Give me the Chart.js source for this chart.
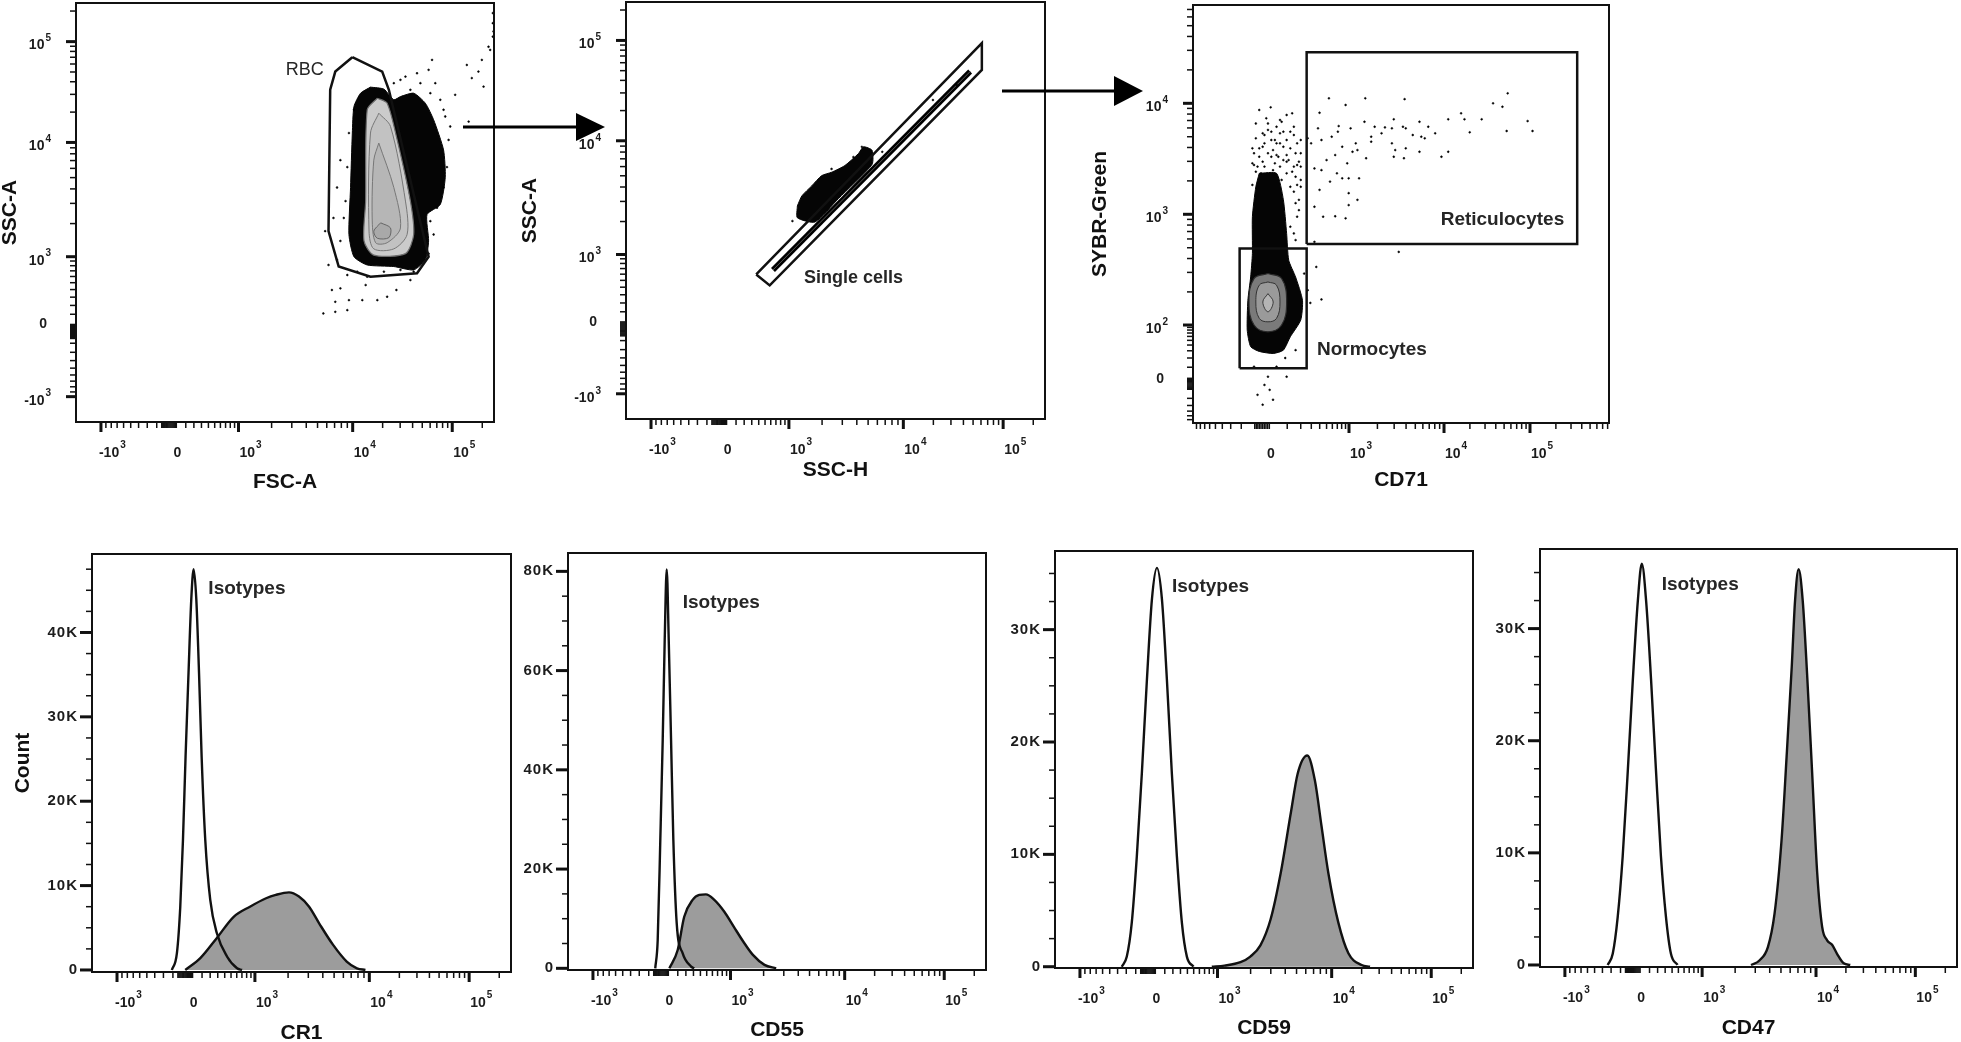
<!DOCTYPE html>
<html lang="en">
<head>
<meta charset="UTF-8">
<title>RBC gating and complement regulator staining</title>
<script src="https://cdn.jsdelivr.net/npm/chart.js"></script>
<style>
  html, body { margin: 0; padding: 0; background: #fff; overflow: hidden; }
  #page { position: relative; width: 1961px; height: 1042px; background: #fff; }
  #page canvas { position: absolute; }
  #arrows { position: absolute; left: 0; top: 0; pointer-events: none; }
</style>
</head>
<body>
<div id="page">
  <canvas id="fscSsc"></canvas>
  <canvas id="singlets"></canvas>
  <canvas id="cd71"></canvas>
  <canvas id="cr1"></canvas>
  <canvas id="cd55"></canvas>
  <canvas id="cd59"></canvas>
  <canvas id="cd47"></canvas>
  <!-- gating arrows -->
  <svg id="arrows" width="1961" height="1042">
    <line x1="463" y1="127" x2="579" y2="127" stroke="#000" stroke-width="3"/>
    <polygon points="576,113 605,127 576,141" fill="#000"/>
    <line x1="1002" y1="91" x2="1117" y2="91" stroke="#000" stroke-width="3"/>
    <polygon points="1114,76 1143,91 1114,106" fill="#000"/>
  </svg>
</div>

<script>
// ---------- data ----------

// FSC-A / SSC-A  [FSC, SSC]
const rbcGate = [[9930,70100],[19800,50500],[23100,33300],[57900,1000],[44300,656],[15100,596],[7590,783],[6210,1715],[6420,33300],[7100,50500],[9930,70100]];
const rbcDense = [[15100,35400],[20600,33800],[25900,26500],[30200,28500],[41000,30800],[53700,24500],[65000,16800],[81800,8630],[85100,5040],[75900,2940],[55800,2400],[57900,1400],[53700,926],[41000,717],[25900,783],[14000,815],[10300,1000],[9290,1600],[9590,4110],[9930,12400],[10300,22700],[12000,30800],[15100,35400]];
const rbcContour1 = [[17700,27500],[22200,24500],[28000,10600],[38000,3140],[41000,1600],[33900,1070],[16300,1035],[13000,1400],[13500,3140],[14000,21100],[17700,27500]];
const rbcContour2 = [[18300,19500],[24000,14400],[33900,3140],[35200,1600],[25900,1185],[16300,1185],[14600,1715],[15100,12400],[18300,19500]];
const rbcContour3 = [[18300,9880],[25900,4110],[30200,1830],[22200,1350],[17000,1350],[15700,2240],[16300,7050],[18300,9880]];
const rbcContour4 = [[19100,2030],[24000,1830],[23100,1500],[17700,1480],[16300,1715],[19100,2030]];
const rbcDots = [[5810,1715],[6210,815],[6640,394],[7100,243],[7850,417],[9000,146],[9290,263],[7100,127],[5610,109],[13500,465],[17700,263],[22200,305],[27500,394],[12500,263],[9000,625],[38000,541],[7350,926],[7850,1400],
  [62700,65900],[57900,52500],[67600,38700],[81800,21100],[95500,14400],[146000,16100],[107000,29700],[140000,58700],[157000,43500],[183000,50500],[198000,65900],[206000,35800],[231000,89000],[240000,82800],[255000,112000],[255000,191000],[255000,152000],[259000,126000],[33900,45000],[44300,48600],
  [75900,26500],[85100,18100],[91900,10600],[88500,6150],[81800,4110],[70300,2750],[60300,2100],[65000,1600],[57900,1070],[38000,33300],[47900,38700],[60300,30800],[30200,41800],[25900,38700],
  [10300,21100],[9290,12400],[9000,6150],[8690,3140],[8390,2240],[6850,2240],[7350,4110],[7850,7050],[11100,685],[20600,685],[30200,717],[41000,685],[14000,596]];

// SSC-H / SSC-A  [SSC-H, SSC-A]
const singletGate = [[363,596],[581,426],[61200,50900],[61200,94200],[363,596]];
const singletBand = [[642,674],[46700,49000]];
const singletCluster = [[1200,2740],[1320,3350],[1620,4090],[1980,5010],[2420,5360],[3160,6130],[4130,7760],[4570,8870],[5400,8300],[5400,6250],[2770,3170],[1730,1980],[1200,2160],[1200,2740]];
const singletDots = [[4420,8870],[3740,7250],[1080,2020],[6610,8040],[2420,5730],[19800,25500],[34200,36100]];

// CD71 / SYBR-Green  [CD71, SYBR]
const reticGate = [[253,540],[354000,540],[354000,28800],[253,28800],[253,540]];
const normoGate = [[-214,9],[253,9],[253,493],[-214,493],[-214,9]];
const normoDense = [[-71,2340],[33,2340],[75,1350],[96,673],[110,386],[159,273],[215,168],[200,111],[121,59],[75,31],[13,26],[-71,29],[-128,37],[-153,80],[-148,168],[-128,273],[-116,445],[-116,951],[-93,1770],[-71,2340]];
const normoContour1 = [[-18,293],[64,264],[96,162],[64,100],[-18,74],[-105,100],[-140,162],[-105,264],[-18,293]];
const normoContour2 = [[-18,246],[33,230],[54,162],[33,115],[-18,107],[-71,115],[-93,162],[-71,230],[-18,246]];
const normoContour3 = [[-18,193],[13,162],[-18,132],[-49,162],[-18,193]];
const reticDots = [[539,11100],[1490,11100],[3860,10900],[55000,12300],[37200,10000],[47800,9310],[902,9660],[398,8220],[1460,6820],[15800,8130],[27400,7180],[11200,7180],[17300,7180],[93800,6920],[107000,5630],[53500,5630],[2970,7180],[3710,6150],[5530,6820],[6840,6150],[8080,5370],[19900,5480],[730,6240],[712,5550],[1040,5950],[378,5950],[1870,6150],[2400,6070],[2840,5950],[3970,5950],[2210,5370],[1720,5000],[1720,4510],[2840,4360],[4700,5180],[5780,5000],[6280,4840],[5530,3660],[3970,3930],[3080,3790],[2970,3300],[3800,3200],[9400,3300],[11200,3660],[263,4840],[298,4360],[424,4670],[588,5000],[814,4060],[1180,4360],[1230,3790],[1090,3660],[656,3420],[500,3080],[335,2590],[424,2500],[692,2340],[948,2880],[990,2110],[1280,2110],[814,2110],[1520,3200],[558,1970],[398,1660],[335,1170],[448,951],[656,960],[902,920],[990,1550],[1230,1350],[990,1210],[3350,459],[357,336],[424,171],[290,159],[335,565]];
const tailDots = [[-2,9200],[-93,4840],[-71,3300],[-18,5760],[12,3790],[54,5370],[96,7850],[134,8130],[146,6150],[75,4060],[109,3080],[159,3550],[200,4670],[200,2690],[-116,2880],[-50,4060],[2,3300],[54,2690],[96,2340],[159,2180],[185,1350],[171,951],[146,673],[159,586],[230,293],[263,207],[159,31],[87,20],[-18,1.4],[12,-21.8],[-82,-15.8],[-50,-28.8],[-8,-10.6],[-39,-5.9],[33,10.5],[96,1.4],[-105,10.5],[-39,2690],[-18,3550],[23,4670],[44,3300],[-60,2340],[64,2040],[121,1770],[33,6150],[75,3080],[-50,5370],[-82,2690],[200,1770],[96,4670],[2,4670],[146,2690],[-105,3550],[200,3550],[23,2880],[64,6820],[-28,7330],
  [-71,8710],[54,7080],[-93,6580],[121,5550],[-39,5180],[33,4360],[171,4360],[-116,3930],[96,3420],[-50,2980],[171,2780],[12,2500],[-93,2420],[121,3930],[146,5180],[-18,6580],[75,5550],[33,3420],[-71,3930],[185,2980],[54,4360],[-39,4360],[2,5550],[96,2980],[134,2420],[-105,2780],[200,2040],[171,1840],[146,1600],[185,1090],[159,1260],[121,773],[-116,1840]];

// histograms: fluorescence and count
const cr1IsoX = [-211,-160,-127,-101,-76,-48,-22,0,32,64,95,139,201,288,435,606,703];
const cr1IsoCount = [0,2000,7500,15400,25300,35200,43900,47500,43900,35200,25300,15400,8300,4350,1600,200,0];
const cr1X = [-79,79,288,545,876,1271,1556,2036,2491,3049,3731,4885,6410,7840,9260];
const cr1Count = [0,1400,3800,6300,7500,8500,8900,9200,8700,7500,5500,3000,1000,200,0];

const cd55IsoX = [-135,-111,-86,-63,-44,-25,-6,20,47,87,160,265,311];
const cd55IsoCount = [0,5700,25900,46000,66200,80400,66200,46000,25900,9100,3000,400,0];
const cd55X = [0,99,179,288,383,486,636,847,1073,1314,1607,2036,2577];
const cd55Count = [0,3700,10400,13800,14800,14900,13800,11400,8400,5400,2700,700,0];

const cd59IsoX = [-351,-294,-241,-189,-139,-90,-42,7,66,126,187,252,320,392,497];
const cd59IsoCount = [0,900,3900,9800,17200,25500,32700,35500,32700,25500,17200,9800,3900,900,0];
const cd59X = [858,1163,1626,1989,2437,2985,3648,4467,5117,6180,7180,8190,9380,11690,14720,19990,24270];
const cd59Count = [0,100,400,900,1900,4200,8300,13700,17200,18800,16600,12500,8300,3900,1200,150,0];

const cd47IsoX = [-338,-282,-229,-178,-127,-79,-31,8,59,119,179,243,311,383,486];
const cd47IsoCount = [0,1000,4300,9700,17400,25400,32500,35800,32500,25400,17400,9700,4300,1000,0];
const cd47X = [2755,3258,3858,4406,5056,5594,6190,6610,7095,7690,8380,9270,10280,11530,12940,14520,16290,19010,22130];
const cd47Count = [0,400,1600,4600,11100,18600,26600,32500,35300,32500,26000,17100,8200,3400,2200,1800,1000,150,0];

// ---------- biexponential axis ----------
class BiexScale extends Chart.LinearScale {
  determineDataLimits() {
    this._anch = this.options.anchors.map(p => [p.v, p.d]);
    this._lw = this.options.linWidth;
    this._gs = this._anch.map(p => Math.asinh(p[0] / this._lw));
    this.min = this._anch[0][0];
    this.max = this._anch[this._anch.length - 1][0];
  }
  buildTicks() {
    return [{ value: this.min }, { value: this.max }];
  }
  toDecimal(v) {
    const g = Math.asinh(v / this._lw), gs = this._gs, an = this._anch;
    let i = 0;
    while (i < gs.length - 2 && g > gs[i + 1]) i++;
    return an[i][1] + (g - gs[i]) / (gs[i + 1] - gs[i]) * (an[i + 1][1] - an[i][1]);
  }
  getPixelForValue(v) {
    if (v === null || v === undefined || Number.isNaN(v)) return NaN;
    return this.getPixelForDecimal(this.toDecimal(v));
  }
  getValueForPixel(px) {
    const d = this.getDecimalForPixel(px), an = this._anch, gs = this._gs;
    let i = 0;
    while (i < an.length - 2 && d > an[i + 1][1]) i++;
    const g = gs[i] + (d - an[i][1]) / (an[i + 1][1] - an[i][1]) * (gs[i + 1] - gs[i]);
    return Math.sinh(g) * this._lw;
  }
}
BiexScale.id = 'biex';
BiexScale.defaults = {};
Chart.register(BiexScale);

Chart.defaults.font.family = '"Liberation Sans", Arial, sans-serif';

function range(a, b, s) { const r = []; for (let v = a; v <= b + 1e-9; v += s) r.push(v); return r; }
function decades(e0, e1) { const r = []; for (let e = e0; e <= e1; e++) for (let m = 2; m <= 9; m++) r.push(m * 10 ** e); return r; }

const stdLabels = [[-1000, '-10', '3'], [0, '0', ''], [1000, '10', '3'], [10000, '10', '4'], [100000, '10', '5']];
const stdMinor = [].concat(range(-900, -100, 100), range(-150, -10, 10), range(100, 900, 100), decades(3, 4), [200000]);

const biexX = {
  kind: 'biex', linWidth: 500,
  anchors: [{v:-1665,d:0},{v:-1000,d:0.0597},{v:0,d:0.2425},{v:1000,d:0.3888},{v:1e4,d:0.6619},{v:1e5,d:0.9001},{v:262144,d:1}],
  major: [-1000, 1000, 1e4, 1e5], minor: stdMinor, labels: stdLabels
};
const biexY = {
  kind: 'biex', linWidth: 500,
  anchors: [{v:-1720,d:0},{v:-1000,d:0.0605},{v:0,d:0.2352},{v:1000,d:0.3945},{v:1e4,d:0.6672},{v:1e5,d:0.9078},{v:240000,d:1}],
  major: [-1000, 1000, 1e4, 1e5], minor: stdMinor, labels: stdLabels
};
const cd71Axis = {
  kind: 'biex', linWidth: 200,
  anchors: [{v:-1000,d:0},{v:0,d:0.1875},{v:1000,d:0.375},{v:1e4,d:0.6034},{v:1e5,d:0.8101},{v:830000,d:1}],
  major: [1000, 1e4, 1e5],
  minor: [].concat(range(-900, -100, 100), range(-90, -10, 10), range(100, 900, 100), decades(3, 4), range(200000, 800000, 100000)),
  labels: [[0, '0', ''], [1000, '10', '3'], [10000, '10', '4'], [100000, '10', '5']]
};
const sybrAxis = {
  kind: 'biex', linWidth: 20,
  anchors: [{v:-70,d:0},{v:0,d:0.1069},{v:100,d:0.2344},{v:1000,d:0.4993},{v:1e4,d:0.7648},{v:76800,d:1}],
  major: [100, 1000, 1e4],
  minor: [].concat(range(-60, -10, 10), range(-9, 0, 1), range(10, 90, 10), range(200, 900, 100), decades(3, 3), range(20000, 70000, 10000)),
  labels: [[0, '0', ''], [100, '10', '2'], [1000, '10', '3'], [10000, '10', '4']]
};
function countAxis(min, max, majorStep, minorStep, top) {
  return {
    kind: 'count', min, max,
    major: range(0, top, majorStep), minor: range(0, max, minorStep),
    labels: range(0, top, majorStep).map(v => [v, v === 0 ? '0' : (v / 1000) + 'K', ''])
  };
}

// ---------- drawing helpers ----------
const pts = list => list.map(([x, y]) => ({ x, y }));
const pairs = (xs, ys) => xs.map((x, i) => ({ x, y: ys[i] }));

function shape(list, fillColor, lineColor, lineWidth, order, tension) {
  return {
    data: pts(list), showLine: true, fill: fillColor ? 'shape' : false,
    backgroundColor: fillColor || 'transparent', borderColor: lineColor, borderWidth: lineWidth,
    pointRadius: 0, tension: tension || 0, order
  };
}
function dots(list, order) {
  return { data: pts(list), showLine: false, pointRadius: 0.9, pointBorderWidth: 0.6, backgroundColor: '#000', borderColor: '#000', order };
}
function histSets(markX, markCount, isoX, isoCount) {
  return [
    { data: pairs(isoX, isoCount), showLine: true, fill: false, borderColor: '#111', borderWidth: 2.4, pointRadius: 0, cubicInterpolationMode: 'monotone', order: 1 },
    { data: pairs(markX, markCount), showLine: true, fill: 'origin', backgroundColor: '#9c9c9c', borderColor: '#111', borderWidth: 2.4, pointRadius: 0, cubicInterpolationMode: 'monotone', order: 2 }
  ];
}

const FONT = '"Liberation Sans", Arial, sans-serif';

function drawFrame(chart, xAxis, yAxis, notes) {
  const ctx = chart.ctx, a = chart.chartArea;
  const xs = chart.scales.x, ys = chart.scales.y;
  ctx.save();
  ctx.strokeStyle = '#111';
  ctx.fillStyle = '#1c1c1c';
  const seg = (x1, y1, x2, y2, w) => { ctx.lineWidth = w; ctx.beginPath(); ctx.moveTo(x1, y1); ctx.lineTo(x2, y2); ctx.stroke(); };

  // x ticks
  const xTick = (v, len, w) => { const p = xs.getPixelForValue(v); if (p >= a.left - 0.5 && p <= a.right + 0.5) seg(p, a.bottom, p, a.bottom + len, w); };
  xAxis.minor.forEach(v => xTick(v, 6, 1.5));
  xAxis.major.forEach(v => xTick(v, 10, 3));
  // y ticks
  const yMajorLen = yAxis.kind === 'count' ? 12 : 10;
  const yTick = (v, len, w) => { const p = ys.getPixelForValue(v); if (p >= a.top - 0.5 && p <= a.bottom + 0.5) seg(a.left, p, a.left - len, p, w); };
  yAxis.minor.forEach(v => yTick(v, 6, 1.5));
  yAxis.major.forEach(v => yTick(v, yMajorLen, 3));

  // plot frame
  ctx.lineWidth = 2;
  ctx.strokeRect(a.left, a.top, a.right - a.left, a.bottom - a.top);

  // x labels
  ctx.textBaseline = 'middle';
  xAxis.labels.forEach(([v, base, exp]) => {
    const p = xs.getPixelForValue(v);
    ctx.font = 'bold 14px ' + FONT;
    if (!exp) { ctx.textAlign = 'center'; ctx.fillText(base, p, a.bottom + 31); return; }
    ctx.textAlign = 'left';
    const x0 = base.charAt(0) === '-' ? p - 2 : p + 1;
    ctx.fillText(base, x0, a.bottom + 31);
    const w = ctx.measureText(base).width;
    ctx.font = 'bold 10px ' + FONT;
    ctx.fillText(exp, x0 + w + 1, a.bottom + 23);
  });

  // y labels
  ctx.textAlign = 'right';
  yAxis.labels.forEach(([v, base, exp]) => {
    const p = ys.getPixelForValue(v);
    if (yAxis.kind === 'count') {
      ctx.font = 'bold 15px ' + FONT;
      ctx.letterSpacing = '1px';
      ctx.fillText(base, a.left - 14, p);
      ctx.letterSpacing = '0px';
      return;
    }
    const right = a.left - 25;
    if (!exp) { ctx.font = 'bold 14px ' + FONT; ctx.fillText(base, right - 4, p + 1); return; }
    ctx.font = 'bold 10px ' + FONT;
    const we = ctx.measureText(exp).width;
    ctx.fillText(exp, right, p - 3);
    ctx.font = 'bold 14px ' + FONT;
    ctx.fillText(base, right - we - 1, p + 4);
  });

  // population labels
  ctx.textAlign = 'center';
  notes.forEach(n => {
    ctx.font = n.font;
    ctx.fillStyle = '#262626';
    ctx.fillText(n.text, xs.getPixelForValue(n.x), ys.getPixelForValue(n.y));
  });
  ctx.restore();
}

function scaleConfig(axis, pos, size, title, titleOffset) {
  const base = axis.kind === 'count'
    ? { type: 'linear', min: axis.min, max: axis.max }
    : { type: 'biex', anchors: axis.anchors, linWidth: axis.linWidth };
  const pad = size - titleOffset - 10.5;
  return Object.assign(base, {
    position: pos,
    grid: { display: false }, border: { display: false }, ticks: { display: false },
    title: title ? {
      display: true, text: title, color: '#111',
      font: { family: FONT, size: 21, weight: 'bold', lineHeight: 1 },
      padding: pos === 'bottom' ? { top: 0, bottom: pad } : { top: pad, bottom: 0 }
    } : { display: false },
    afterFit: s => { if (pos === 'bottom') s.height = size; else s.width = size; }
  });
}

function makePanel(p) {
  const cv = document.getElementById(p.id);
  const W = p.pad.l + p.box.w + p.pad.r, H = p.pad.t + p.box.h + p.pad.b;
  cv.width = W; cv.height = H;
  cv.style.width = W + 'px'; cv.style.height = H + 'px';
  cv.style.left = (p.box.l - p.pad.l) + 'px';
  cv.style.top = (p.box.t - p.pad.t) + 'px';
  return new Chart(cv, {
    type: 'scatter',
    data: { datasets: p.datasets },
    options: {
      responsive: false, animation: false, devicePixelRatio: 1, events: [],
      layout: { autoPadding: false, padding: { left: 0, top: p.pad.t, right: p.pad.r, bottom: 0 } },
      plugins: { legend: { display: false }, tooltip: { enabled: false } },
      scales: {
        x: scaleConfig(p.x, 'bottom', p.pad.b, p.xTitle, p.xTitleOffset),
        y: scaleConfig(p.y, 'left', p.pad.l, p.yTitle, p.yTitleOffset)
      }
    },
    plugins: [{ id: 'flowFrame', afterDraw: c => drawFrame(c, p.x, p.y, p.notes || []) }]
  });
}

const gateFont = 'bold 19px ' + FONT;

// ---------- panels ----------
makePanel({
  id: 'fscSsc', box: { l: 76, t: 3, w: 418, h: 419 }, pad: { l: 80, r: 10, t: 3, b: 75 },
  x: biexX, y: biexY, xTitle: 'FSC-A', xTitleOffset: 60, yTitle: 'SSC-A', yTitleOffset: 65.7,
  datasets: [
    shape(rbcGate, null, '#111', 2.5, 1),
    dots(rbcDots, 2),
    shape(rbcContour4, '#a9a9a9', '#666', 1, 3, 0.3),
    shape(rbcContour3, '#b6b6b6', '#777', 1, 4, 0.3),
    shape(rbcContour2, '#c2c2c2', '#777', 1, 5, 0.3),
    shape(rbcContour1, '#cbcbcb', '#6e6e6e', 1.2, 6, 0.25),
    shape(rbcDense, '#050505', '#050505', 1, 7, 0.2)
  ],
  notes: [{ text: 'RBC', x: 3880, y: 52500, font: '18px ' + FONT }]
});

makePanel({
  id: 'singlets', box: { l: 626, t: 2, w: 419, h: 417 }, pad: { l: 110, r: 10, t: 2, b: 75 },
  x: biexX, y: biexY, xTitle: 'SSC-H', xTitleOffset: 51, yTitle: 'SSC-A', yTitleOffset: 96,
  datasets: [
    shape(singletGate, null, '#111', 2.5, 1),
    dots(singletDots, 2),
    shape(singletBand, null, '#5a5a5a', 1, 3),
    shape(singletBand, null, '#000', 5.5, 4),
    shape(singletCluster, '#050505', '#050505', 1, 5, 0.2)
  ],
  notes: [{ text: 'Single cells', x: 3740, y: 541, font: 'bold 18px ' + FONT }]
});

makePanel({
  id: 'cd71', box: { l: 1193, t: 5, w: 416, h: 418 }, pad: { l: 106, r: 10, t: 5, b: 75 },
  x: cd71Axis, y: sybrAxis, xTitle: 'CD71', xTitleOffset: 57, yTitle: 'SYBR-Green', yTitleOffset: 92.3,
  datasets: [
    shape(reticGate, null, '#111', 2.5, 1),
    shape(normoGate, null, '#111', 2.5, 1),
    dots(reticDots, 2),
    dots(tailDots, 2),
    shape(normoContour3, '#b4b4b4', '#3a3a3a', 1, 3, 0.4),
    shape(normoContour2, '#9a9a9a', '#333', 1, 4, 0.4),
    shape(normoContour1, '#7a7a7a', '#2a2a2a', 1.2, 5, 0.4),
    shape(normoDense, '#050505', '#050505', 1, 6, 0.2)
  ],
  notes: [
    { text: 'Reticulocytes', x: 47800, y: 889, font: gateFont },
    { text: 'Normocytes', x: 1750, y: 31, font: gateFont }
  ]
});

makePanel({
  id: 'cr1', box: { l: 92, t: 554, w: 419, h: 418 }, pad: { l: 84, r: 10, t: 10, b: 70 },
  x: biexX, y: countAxis(-240, 49300, 10000, 2500, 40000),
  xTitle: 'CR1', xTitleOffset: 61.6, yTitle: 'Count', yTitleOffset: 68.4,
  datasets: histSets(cr1X, cr1Count, cr1IsoX, cr1IsoCount),
  notes: [{ text: 'Isotypes', x: 806, y: 45200, font: gateFont }]
});

makePanel({
  id: 'cd55', box: { l: 568, t: 553, w: 418, h: 417 }, pad: { l: 70, r: 10, t: 10, b: 70 },
  x: biexX, y: countAxis(-340, 83700, 20000, 5000, 80000),
  xTitle: 'CD55', xTitleOffset: 60,
  datasets: histSets(cd55X, cd55Count, cd55IsoX, cd55IsoCount),
  notes: [{ text: 'Isotypes', x: 778, y: 73700, font: gateFont }]
});

makePanel({
  id: 'cd59', box: { l: 1055, t: 551, w: 418, h: 417 }, pad: { l: 70, r: 10, t: 10, b: 70 },
  x: biexX, y: countAxis(-115, 37000, 10000, 2500, 30000),
  xTitle: 'CD59', xTitleOffset: 60,
  datasets: histSets(cd59X, cd59Count, cd59IsoX, cd59IsoCount),
  notes: [{ text: 'Isotypes', x: 827, y: 33800, font: gateFont }]
});

makePanel({
  id: 'cd47', box: { l: 1540, t: 549, w: 417, h: 418 }, pad: { l: 70, r: 4, t: 10, b: 70 },
  x: biexX, y: countAxis(-180, 37100, 10000, 2500, 30000),
  xTitle: 'CD47', xTitleOffset: 61.6,
  datasets: histSets(cd47X, cd47Count, cd47IsoX, cd47IsoCount),
  notes: [{ text: 'Isotypes', x: 950, y: 33900, font: gateFont }]
});
</script>
</body>
</html>
